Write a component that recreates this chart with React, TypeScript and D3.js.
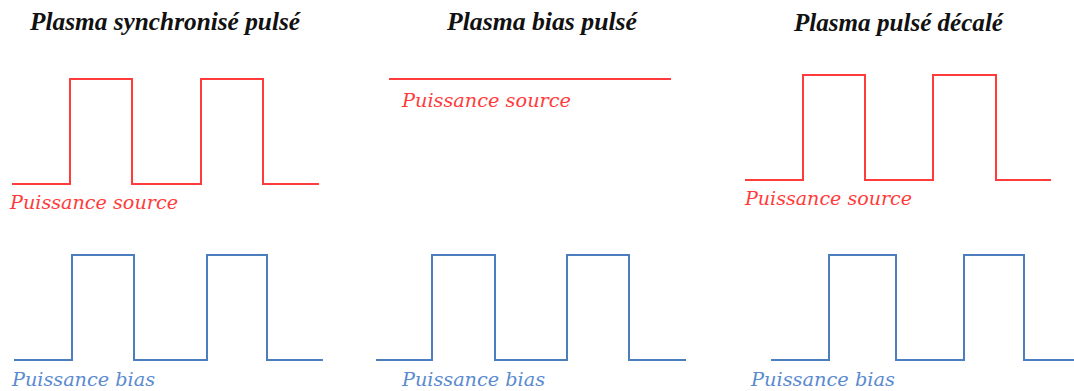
import React from "react";
import * as d3 from "d3";

// Panel titles
const titles = ["Plasma synchronisé pulsé", "Plasma bias pulsé", "Plasma pulsé décalé"];
const sourceLabel = "Puissance source";
const biasLabel = "Puissance bias";

// Step waveforms: [time, level] (level 0 = off, 1 = on), time in panel units
const sourceSync: [number, number][] = [[1.2, 0], [7.0, 1], [13.2, 0], [20.1, 1], [26.3, 0], [31.9, 0]];
const biasSync: [number, number][] = [[1.4, 0], [7.2, 1], [13.4, 0], [20.7, 1], [26.7, 0], [32.3, 0]];
const sourceBias: [number, number][] = [[2.9, 1], [31.1, 1]];
const biasBias: [number, number][] = [[1.6, 0], [7.2, 1], [13.5, 0], [20.7, 1], [26.9, 0], [32.6, 0]];
const sourceShift: [number, number][] = [[3.1, 0], [8.9, 1], [15.1, 0], [21.9, 1], [28.2, 0], [33.7, 0]];
const biasShift: [number, number][] = [[5.7, 0], [11.5, 1], [18.2, 0], [25.0, 1], [31.0, 0], [36.0, 0]];

const RED = "#ff3b3b";
const BLUE = "#4a7ebf";
const BLUE_TEXT = "#5a8ad0";

type Panel = {
  title: string;
  offset: number;
  source: [number, number][];
  bias: [number, number][];
  srcShift: number;
  titleX: [number, number];
  titleY: number;
  srcLabelX: [number, number];
  srcLabelY: number;
  biasLabelX: [number, number];
};

const panels: Panel[] = [
  { title: titles[0], offset: 0, source: sourceSync, bias: biasSync, srcShift: 0, titleX: [30, 300], titleY: 30, srcLabelX: [10, 178], srcLabelY: 209, biasLabelX: [12, 155] },
  { title: titles[1], offset: 360, source: sourceBias, bias: biasBias, srcShift: 0, titleX: [447, 637], titleY: 30, srcLabelX: [402, 571], srcLabelY: 107, biasLabelX: [402, 545] },
  { title: titles[2], offset: 714, source: sourceShift, bias: biasShift, srcShift: -4, titleX: [794, 1003], titleY: 31, srcLabelX: [745, 912], srcLabelY: 205, biasLabelX: [751, 895] },
];

export default function App() {
  const W = 1074, H = 391;
  const ySrc = d3.scaleLinear().domain([0, 1]).range([184, 79]);
  const yBias = d3.scaleLinear().domain([0, 1]).range([360, 255]);

  return (
    <svg width={W} height={H} style={{ position: "absolute", left: 0, top: 0, background: "#fff" }}>
      {panels.map((p, i) => {
        const x = d3.scaleLinear().domain([0, 32]).range([p.offset, p.offset + 320]);
        const srcLine = d3.line<[number, number]>()
          .x(d => x(d[0]))
          .y(d => ySrc(d[1]) + p.srcShift)
          .curve(d3.curveStepAfter);
        const biasLine = d3.line<[number, number]>()
          .x(d => x(d[0]))
          .y(d => yBias(d[1]))
          .curve(d3.curveStepAfter);
        return (
          <g key={i}>
            <text x={p.titleX[0]} y={p.titleY} textLength={p.titleX[1] - p.titleX[0]} lengthAdjust="spacingAndGlyphs"
              fontFamily="'Liberation Serif', serif" fontStyle="italic" fontWeight="bold" fontSize={26} fill="#111">
              {p.title}
            </text>
            <path d={srcLine(p.source) || ""} fill="none" stroke={RED} strokeWidth={2} />
            <path d={biasLine(p.bias) || ""} fill="none" stroke={BLUE} strokeWidth={2} />
            <text x={p.srcLabelX[0]} y={p.srcLabelY} textLength={p.srcLabelX[1] - p.srcLabelX[0]} lengthAdjust="spacingAndGlyphs"
              fontFamily="'DejaVu Serif', serif" fontStyle="italic" fontSize={18} fill={RED}>
              {sourceLabel}
            </text>
            <text x={p.biasLabelX[0]} y={386} textLength={p.biasLabelX[1] - p.biasLabelX[0]} lengthAdjust="spacingAndGlyphs"
              fontFamily="'DejaVu Serif', serif" fontStyle="italic" fontSize={18} fill={BLUE_TEXT}>
              {biasLabel}
            </text>
          </g>
        );
      })}
    </svg>
  );
}
